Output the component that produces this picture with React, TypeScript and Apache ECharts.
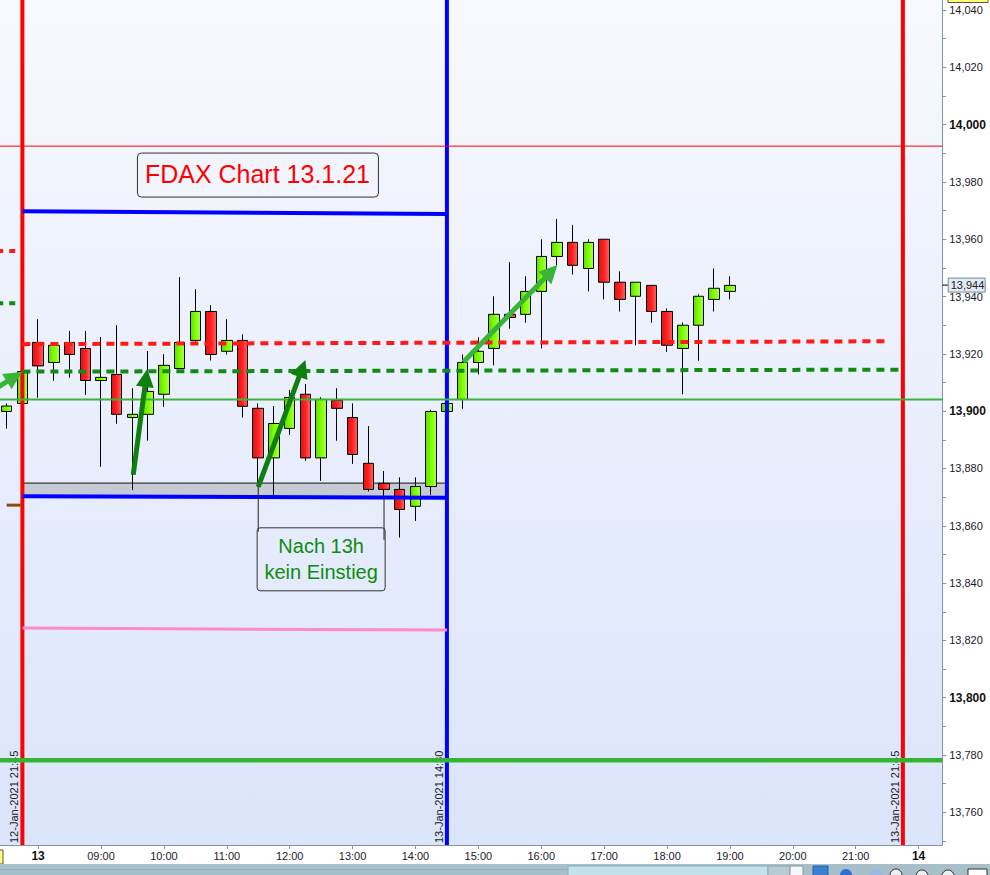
import React, { useEffect, useRef } from "react";
import * as echarts from "echarts";

// ---------- data ----------
const HOURS = ["08", "09", "10", "11", "12", "13", "14", "15", "16", "17", "18", "19", "20", "21"];
const QUARTERS = ["00", "15", "30", "45"];
const SLOTS: string[] = ["12-Jan 21:30", "12-Jan 21:45"];
HOURS.forEach((h) => QUARTERS.forEach((q) => SLOTS.push(`13-Jan ${h}:${q}`)));
SLOTS.push("14-Jan 08:00", "14-Jan 08:15");

// [open, close, low, high] per 15-minute slot
const CANDLES: (number[] | string)[] = [
  [13899.9, 13901.8, 13893.9, 13902.7],
  [13902.7, 13913.8, 13902.0, 13914.5],
  [13924.0, 13915.8, 13904.7, 13932.1],
  [13917.0, 13923.0, 13910.6, 13924.0],
  [13924.0, 13919.8, 13911.7, 13928.0],
  [13921.9, 13910.7, 13905.7, 13928.0],
  [13910.7, 13911.8, 13880.6, 13925.9],
  [13912.8, 13898.9, 13895.6, 13930.0],
  [13897.8, 13898.9, 13872.5, 13908.0],
  [13898.9, 13906.9, 13889.7, 13921.0],
  [13905.9, 13916.0, 13901.5, 13919.9],
  [13914.9, 13924.0, 13914.9, 13946.8],
  [13924.7, 13934.8, 13924.0, 13942.6],
  [13934.8, 13919.8, 13917.7, 13937.0],
  [13920.9, 13924.7, 13919.8, 13932.1],
  [13924.7, 13901.7, 13897.8, 13926.8],
  [13901.0, 13883.7, 13873.5, 13902.7],
  [13883.7, 13895.7, 13870.7, 13901.8],
  [13894.0, 13904.8, 13891.7, 13907.4],
  [13905.9, 13883.7, 13882.7, 13909.5],
  [13883.7, 13904.1, 13875.7, 13904.9],
  [13903.8, 13901.0, 13889.7, 13908.0],
  [13897.8, 13884.9, 13881.6, 13902.7],
  [13881.8, 13872.7, 13872.0, 13894.8],
  [13874.8, 13872.7, 13870.0, 13879.1],
  [13872.7, 13865.7, 13855.9, 13876.9],
  [13866.8, 13873.7, 13861.7, 13876.9],
  [13873.7, 13899.9, 13870.7, 13900.5],
  [13899.9, 13902.7, 13899.5, 13903.0],
  [13904.1, 13917.0, 13900.8, 13919.8],
  [13917.0, 13920.9, 13912.8, 13925.8],
  [13921.9, 13933.8, 13916.0, 13940.1],
  [13933.8, 13932.7, 13928.8, 13952.0],
  [13933.8, 13941.8, 13930.9, 13947.1],
  [13941.8, 13954.0, 13921.9, 13960.0],
  [13954.0, 13958.9, 13950.9, 13967.1],
  [13958.9, 13950.9, 13947.7, 13965.0],
  [13949.8, 13958.9, 13941.8, 13960.0],
  [13960.0, 13945.0, 13939.0, 13960.0],
  [13945.0, 13939.0, 13934.8, 13948.8],
  [13940.1, 13945.0, 13923.0, 13945.0],
  [13943.9, 13934.8, 13930.9, 13943.9],
  [13934.8, 13923.0, 13920.7, 13935.9],
  [13921.9, 13930.0, 13905.9, 13931.0],
  [13930.0, 13940.1, 13917.6, 13940.8],
  [13939.0, 13942.9, 13934.8, 13949.8],
  [13941.8, 13943.9, 13939.0, 13947.1],
];
while (CANDLES.length < SLOTS.length) CANDLES.push("-");

const Y_MIN = 13748.6;
const Y_MAX = 14043.5;
const LAST_PRICE = 13944;

// level lines: [slotFrom, valueFrom, slotTo, valueTo]
const RANGE_HIGH = [1, 13969.8, 28, 13968.8];
const RANGE_LOW = [1, 13870.3, 28, 13869.8];
const RANGE_BAND_TOP = 13874.9;
const PINK_LEVEL = [1, 13824.3, 28, 13823.6];
const RED_DASH = [1, 13923.4, 56, 13924.4];
const GREEN_DASH = [1, 13913.8, 57, 13914.5];
const PREV_RED_DASH = [-0.6, 13955.9, 0.73, 13955.9];
const PREV_GREEN_DASH = [-0.6, 13937.7, 0.73, 13937.7];
const PREV_BROWN = [0.0, 13867.2, 0.9, 13867.2];
const THIN_RED = 13992.5;
const THIN_GREEN = 13904.1;
const THICK_GREEN = 13778.2;

const SESSION_MARKS = [
  { slot: 1, label: "12-Jan-2021 21:45", color: "#ff0000" },
  { slot: 28, label: "13-Jan-2021 14:30", color: "#0000ff" },
  { slot: 57, label: "13-Jan-2021 21:45", color: "#ff0000" },
];

// arrows: [slotFrom, valueFrom, slotTo, valueTo, kind]
const ARROWS: [number, number, number, number, string][] = [
  [-1.06, 13906.6, 0.98, 13913.7, "light"],
  [8.05, 13877.8, 8.94, 13914.7, "dark"],
  [16.0, 13873.6, 19.0, 13917.9, "dark"],
  [29.05, 13917.2, 35.03, 13951.0, "light"],
];

const TITLE_TEXT = "FDAX Chart 13.1.21";
const TITLE_ANCHOR = [15.95, 13982.4];
const NOTE_LINES = ["Nach 13h", "kein Einstieg"];
const NOTE_ANCHOR = [20.0, 13848.3];
const NOTE_TOP = 13859.3;
const NOTE_LEGS = [
  [16, 13873.5],
  [24, 13870.0],
];

const FONT = "Liberation Sans";

function fmtNum(v: number): string {
  const r = Math.round(v);
  return `${Math.floor(r / 1000)},${String(r % 1000).padStart(3, "0")}`;
}

export default function App() {
  const ref = useRef<HTMLDivElement>(null);
  useEffect(() => {
    document.body.style.margin = "0";
    document.body.style.overflow = "hidden";
    const chart = echarts.init(ref.current!, null, { renderer: "svg" });

    const greenFill = new echarts.graphic.LinearGradient(0, 0, 1, 0, [
      { offset: 0, color: "#5cdc00" },
      { offset: 0.5, color: "#80ff00" },
      { offset: 1, color: "#a8ff50" },
    ]);
    const redFill = new echarts.graphic.LinearGradient(0, 0, 1, 0, [
      { offset: 0, color: "#e41010" },
      { offset: 0.5, color: "#ff2222" },
      { offset: 1, color: "#ff6262" },
    ]);

    const helpers = (api: any) => {
      const bw = api.size([1, 0])[0];
      const x0 = api.coord([0, Y_MIN])[0];
      const X = (s: number) => x0 + s * bw;
      const Y = (v: number) => api.coord([0, v])[1];
      return { bw, X, Y };
    };

    const seg = (X: any, Y: any, a: number[], style: any) => ({
      type: "line",
      shape: { x1: X(a[0]), y1: Y(a[1]), x2: X(a[2]), y2: Y(a[3]) },
      style,
    });

    const belowItem = (params: any, api: any) => {
      const { X, Y } = helpers(api);
      const x1 = X(RANGE_LOW[0]);
      const x2 = X(RANGE_LOW[2]);
      const yt = Y(RANGE_BAND_TOP);
      const yb = Y(RANGE_LOW[1]);
      return {
        type: "group",
        children: [
          { type: "rect", shape: { x: x1, y: yt, width: x2 - x1, height: yb - yt }, style: { fill: "#c6cad4" } },
          { type: "line", shape: { x1, y1: yt, x2, y2: yt }, style: { stroke: "#111", lineWidth: 1 } },
        ],
      };
    };

    const aboveItem = (params: any, api: any) => {
      const { X, Y } = helpers(api);
      const L = -0.5;
      const R = SLOTS.length - 0.5;
      const top = Y(Y_MAX);
      const bottom = Y(Y_MIN);
      const ch: any[] = [];

      // vertical session lines
      SESSION_MARKS.forEach((m) => {
        ch.push({ type: "line", shape: { x1: X(m.slot), y1: top, x2: X(m.slot), y2: bottom }, style: { stroke: m.color, lineWidth: 4 } });
      });
      // date labels
      SESSION_MARKS.forEach((m) => {
        ch.push({
          type: "text",
          x: X(m.slot) - 8,
          y: bottom - 2,
          rotation: Math.PI / 2,
          style: { text: m.label, fill: "#222", fontSize: 11, fontFamily: FONT, align: "left", verticalAlign: "middle" },
        });
      });

      // full-width levels
      ch.push({ type: "line", shape: { x1: X(L), y1: Y(THIN_RED), x2: X(R), y2: Y(THIN_RED) }, style: { stroke: "#ff0000", lineWidth: 1 } });
      ch.push({ type: "line", shape: { x1: X(L), y1: Y(THIN_GREEN), x2: X(R), y2: Y(THIN_GREEN) }, style: { stroke: "#3cb43c", lineWidth: 2 } });

      // previous-day short levels
      ch.push(seg(X, Y, PREV_RED_DASH, { stroke: "#ff1a1a", lineWidth: 4, lineDash: [6, 6] }));
      ch.push(seg(X, Y, PREV_GREEN_DASH, { stroke: "#138a13", lineWidth: 4, lineDash: [6, 6] }));
      ch.push(seg(X, Y, PREV_BROWN, { stroke: "#8b4a13", lineWidth: 3 }));

      // range lines
      ch.push(seg(X, Y, RANGE_HIGH, { stroke: "#0000ff", lineWidth: 4 }));
      ch.push(seg(X, Y, RANGE_LOW, { stroke: "#0000ff", lineWidth: 4 }));
      ch.push(seg(X, Y, PINK_LEVEL, { stroke: "#ff88c8", lineWidth: 3 }));
      ch.push(seg(X, Y, RED_DASH, { stroke: "#ff1a1a", lineWidth: 4, lineDash: [8, 6] }));
      ch.push(seg(X, Y, GREEN_DASH, { stroke: "#138a13", lineWidth: 4, lineDash: [8, 6] }));

      // thick green level
      ch.push({ type: "line", shape: { x1: X(L), y1: Y(THICK_GREEN), x2: X(R), y2: Y(THICK_GREEN) }, style: { stroke: "#33b533", lineWidth: 4.5 } });

      // note legs + box
      const nx = X(NOTE_ANCHOR[0]);
      const ny = Y(NOTE_ANCHOR[1]);
      const nTop = Y(NOTE_TOP);
      ch.push({ type: "line", shape: { x1: X(NOTE_LEGS[0][0]), y1: Y(NOTE_LEGS[0][1]), x2: X(NOTE_LEGS[0][0]), y2: nTop + 4 }, style: { stroke: "#222", lineWidth: 1 } });
      ch.push({ type: "line", shape: { x1: X(NOTE_LEGS[1][0]), y1: Y(NOTE_LEGS[1][1]), x2: X(NOTE_LEGS[1][0]), y2: nTop + 12 }, style: { stroke: "#222", lineWidth: 1 } });
      ch.push({ type: "rect", shape: { x: nx - 64, y: nTop, width: 128, height: 63, r: 3 }, style: { fill: "rgba(0,0,0,0)", stroke: "#333", lineWidth: 1 } });
      NOTE_LINES.forEach((t, i) => {
        ch.push({
          type: "text",
          x: nx,
          y: ny + (i === 0 ? -13 : 13),
          style: { text: t, fill: "#0e8c0e", fontSize: 20, fontFamily: FONT, align: "center", verticalAlign: "middle" },
        });
      });

      // title box
      const tx = X(TITLE_ANCHOR[0]);
      const ty = Y(TITLE_ANCHOR[1]);
      ch.push({ type: "rect", shape: { x: tx - 120, y: ty - 22, width: 241, height: 44, r: 4 }, style: { fill: "rgba(0,0,0,0)", stroke: "#333", lineWidth: 1 } });
      ch.push({ type: "text", x: tx, y: ty - 1, style: { text: TITLE_TEXT, fill: "#ff0000", fontSize: 25, fontFamily: FONT, align: "center", verticalAlign: "middle" } });

      // arrows
      ARROWS.forEach((a) => {
        const color = a[4] === "dark" ? "#0f800f" : "#38b438";
        const p1 = [X(a[0]), Y(a[1])];
        const p2 = [X(a[2]), Y(a[3])];
        const dx = p2[0] - p1[0];
        const dy = p2[1] - p1[1];
        const len = Math.hypot(dx, dy);
        const ux = dx / len;
        const uy = dy / len;
        const hl = 18;
        const hw = 9;
        const bx = p2[0] - ux * hl;
        const by = p2[1] - uy * hl;
        ch.push({ type: "line", shape: { x1: p1[0], y1: p1[1], x2: bx + ux * 3, y2: by + uy * 3 }, style: { stroke: color, lineWidth: 5 } });
        ch.push({
          type: "polygon",
          shape: { points: [[p2[0], p2[1]], [bx - uy * hw, by + ux * hw], [bx + uy * hw, by - ux * hw]] },
          style: { fill: color },
        });
      });

      // last price label on axis
      const ax = X(R);
      const py = Y(LAST_PRICE);
      ch.push({ type: "line", shape: { x1: ax, y1: py, x2: ax + 6, y2: py }, style: { stroke: "#000", lineWidth: 1 } });
      ch.push({ type: "rect", shape: { x: ax + 6, y: py - 7, width: 37, height: 14 }, style: { fill: "#e2eaf4", stroke: "#6f88a6", lineWidth: 1 } });
      ch.push({ type: "text", x: ax + 8.5, y: py, style: { text: fmtNum(LAST_PRICE), fill: "#222", fontSize: 11, fontFamily: FONT, align: "left", verticalAlign: "middle" } });

      return { type: "group", children: ch };
    };

    const isHour = (_i: number, v: string) => v.endsWith(":00");

    chart.setOption({
      animation: false,
      backgroundColor: "#ffffff",
      grid: { left: -1.2, right: 47.8, top: 0, bottom: 30, outerBoundsMode: "none", containLabel: false },
      xAxis: {
        type: "category",
        data: SLOTS,
        boundaryGap: true,
        axisLine: { show: true, lineStyle: { color: "#8295a6", width: 1 } },
        axisTick: { show: true, alignWithLabel: true, interval: isHour, length: 4, lineStyle: { color: "#8295a6" } },
        axisLabel: {
          interval: isHour,
          margin: 5,
          color: "#1a1a2a",
          fontSize: 11,
          fontFamily: FONT,
          formatter: (v: string) => (v.endsWith("08:00") ? `{d|${parseInt(v, 10)}}` : v.slice(7)),
          rich: { d: { fontSize: 12, fontWeight: "bold", fontFamily: FONT, color: "#111" } },
        },
        splitLine: { show: false },
      },
      yAxis: {
        type: "value",
        position: "right",
        min: Y_MIN,
        max: Y_MAX,
        splitNumber: 30,
        minInterval: 10,
        maxInterval: 10,
        axisLine: { show: true, lineStyle: { color: "#8295a6", width: 1 } },
        axisTick: { show: true, length: 4, lineStyle: { color: "#8295a6" } },
        splitLine: { show: false },
        axisLabel: {
          margin: 7,
          color: "#1a1a2a",
          fontSize: 11,
          fontFamily: FONT,
          showMinLabel: false,
          showMaxLabel: false,
          formatter: (v: number) => {
            const r = Math.round(v);
            if (Math.abs(v - r) > 0.01 || r % 20 !== 0) return "";
            const s = fmtNum(r);
            return r % 100 === 0 ? `{b|${s}}` : s;
          },
          rich: { b: { fontSize: 12, fontWeight: "bold", fontFamily: FONT, color: "#111" } },
        },
      },
      graphic: [
        {
          type: "rect",
          z: -10,
          silent: true,
          shape: { x: 0, y: 0, width: 942.2, height: 845 },
          style: {
            fill: new echarts.graphic.LinearGradient(0, 0, 0, 1, [
              { offset: 0, color: "#f8f9fe" },
              { offset: 1, color: "#dae4fb" },
            ]),
          },
        },
        { type: "rect", z: 10, silent: true, shape: { x: 948, y: -12, width: 40, height: 14.5 }, style: { fill: "#ffff70", stroke: "#555", lineWidth: 1 } },
        { type: "rect", z: 10, silent: true, shape: { x: -30, y: 850, width: 33, height: 14 }, style: { fill: "#ffff70", stroke: "#555", lineWidth: 1 } },
        { type: "rect", z: 10, silent: true, shape: { x: 0, y: 864, width: 990, height: 11 }, style: { fill: "#a6bfc9" } },
        { type: "line", z: 10, silent: true, shape: { x1: 0, y1: 869.5, x2: 568, y2: 869.5 }, style: { stroke: "#93adb8", lineWidth: 1 } },
        { type: "rect", z: 10, silent: true, shape: { x: 568, y: 866, width: 200, height: 12 }, style: { fill: "#c3e2ea", stroke: "#8fb0bb", lineWidth: 1 } },
        { type: "rect", z: 10, silent: true, shape: { x: 768, y: 866, width: 22, height: 12 }, style: { fill: "#b6ccd4", stroke: "#8fa8b2", lineWidth: 1 } },
        { type: "rect", z: 10, silent: true, shape: { x: 790, y: 866, width: 13, height: 12 }, style: { fill: "#f4f7f8", stroke: "#8899a0", lineWidth: 1 } },
        { type: "rect", z: 10, silent: true, shape: { x: 813, y: 866, width: 15, height: 12 }, style: { fill: "#3b7fd0", stroke: "#1f5fb0", lineWidth: 1 } },
        { type: "circle", z: 10, silent: true, shape: { cx: 846, cy: 875, r: 6 }, style: { fill: "#2f6fd0" } },
        { type: "circle", z: 10, silent: true, shape: { cx: 876, cy: 875, r: 6 }, style: { fill: "#9ab8e0" } },
        { type: "circle", z: 10, silent: true, shape: { cx: 896, cy: 875, r: 6 }, style: { fill: "#eeeeee", stroke: "#333", lineWidth: 1 } },
        { type: "circle", z: 10, silent: true, shape: { cx: 922, cy: 876, r: 6 }, style: { fill: "#eeeeee", stroke: "#333", lineWidth: 1 } },
        { type: "circle", z: 10, silent: true, shape: { cx: 948, cy: 876, r: 6 }, style: { fill: "#eeeeee", stroke: "#333", lineWidth: 1 } },
        { type: "rect", z: 10, silent: true, shape: { x: 968, y: 869, width: 19, height: 8 }, style: { fill: "#ffffff", stroke: "#333", lineWidth: 1 } },
      ],
      series: [
        {
          type: "custom",
          z: 1,
          silent: true,
          clip: false,
          data: [[0, Y_MIN]],
          encode: { x: 0, y: 1 },
          renderItem: belowItem,
        },
        {
          type: "candlestick",
          z: 2,
          data: CANDLES,
          barWidth: 11,
          silent: true,
          itemStyle: {
            color: greenFill,
            color0: redFill,
            borderColor: "#000",
            borderColor0: "#000",
            borderColorDoji: "#000",
            borderWidth: 1,
          },
        },
        {
          type: "custom",
          z: 3,
          silent: true,
          clip: false,
          data: [[0, Y_MIN]],
          encode: { x: 0, y: 1 },
          renderItem: aboveItem,
        },
      ],
    });

    return () => chart.dispose();
  }, []);

  return <div ref={ref} style={{ width: 990, height: 875 }} />;
}
